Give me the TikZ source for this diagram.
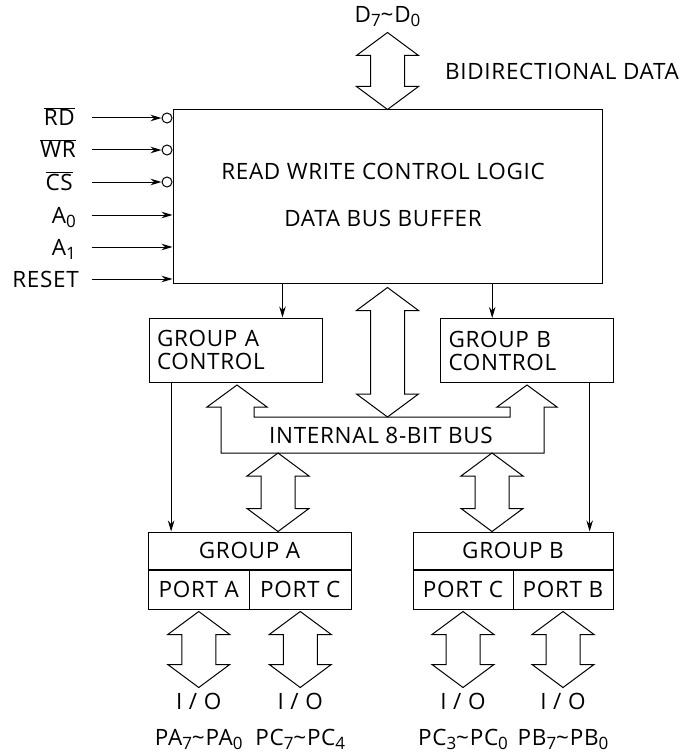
\documentclass[tikz,border=0pt]{standalone}
\usepackage{fontspec}
\setmainfont[LetterSpace=3]{Open Sans}
\usepackage{tikz}
\usetikzlibrary{
    arrows.meta,
    positioning,
    calc
}
\newcommand{\lowix}[1]{\raisebox{-4.5pt}{\fontsize{17}{17}\selectfont #1}}
\newcommand{\ovl}[1]{$\overline{\hbox{#1}}$}

\begin{document}
\begin{tikzpicture}[x=1pt, y=-1pt,
    font=\fontsize{22.5}{23}\selectfont,
    blk/.style={
        draw,
        line width=1pt,
        inner sep=0pt,
        text height=16pt,
        text depth=0pt
    },
    ctrl/.style={
        draw,
        line width=1pt,
        inner sep=0pt,
        align=left,
        text width=157pt,
        minimum width=173pt,
        minimum height=64pt
    },
    txt/.style={inner sep=0pt, text height=16pt, text depth=0pt},
    sig/.style={-{Stealth[length=11pt,width=6.5pt]}, line width=1pt},
    bubble/.style={circle, draw, line width=1pt, inner sep=0pt, minimum size=10pt},
    bus/.style={draw, line width=1pt, line join=miter, fill=white},
    dbl/.style={bus, to path={
        (\tikztostart) -- ++(-31,23) -- ++(14,0)
        -- ($(\tikztotarget)+(-17,-23)$) -- ++(-14,0) -- (\tikztotarget)
        -- ++(31,-23) -- ++(-14,0)
        -- ($(\tikztostart)+(17,23)$) -- ++(14,0) -- cycle}}
]
\useasboundingbox (0,0) rectangle (692,754);

% ===== main block =====
\node[blk, minimum width=429pt, minimum height=173pt] (rwl) at (387.5,196.5) {};
\node[txt] (rwtxt) at (383,171) {READ WRITE CONTROL LOGIC};
\node[txt, below=31pt of rwtxt] (dbtxt) {DATA BUS BUFFER};

\coordinate[above=77pt of rwl.north] (dtop);
\draw[dbl] (dtop) to (rwl.north);
\node[txt, above=10pt of dtop] (dlbl) {D\lowix{7}\textasciitilde D\lowix{0}};
\node[txt, anchor=west] (bidir) at (445,72) {BIDIRECTIONAL DATA};

% ===== inputs =====
\node[txt, anchor=east] (rd) at (75,118) {\ovl{RD}};
\node[txt, anchor=east] (wr) at (76,150) {\ovl{WR}};
\node[txt, anchor=east] (cs) at (73,182) {\ovl{CS}};
\node[txt, anchor=east] (azero) at (76,215) {A\lowix{0}};
\node[txt, anchor=east] (aone) at (76,247) {A\lowix{1}};
\node[txt, anchor=east] (reset) at (79,279) {RESET};

\node[bubble, anchor=east] (brd) at (rwl.west |- rd) {};
\node[bubble, anchor=east] (bwr) at (rwl.west |- wr) {};
\node[bubble, anchor=east] (bcs) at (rwl.west |- cs) {};

\draw[sig] (92,0 |- rd) -- (brd);
\draw[sig] (92,0 |- wr) -- (bwr);
\draw[sig] (92,0 |- cs) -- (bcs);
\draw[sig] (92,0 |- azero) -- (azero -| rwl.west);
\draw[sig] (92,0 |- aone) -- (aone -| rwl.west);
\draw[sig] (92,0 |- reset) -- (reset -| rwl.west);

% ===== group controls =====
\node[ctrl] (actl) at (235.5,350) {GROUP A\\CONTROL};
\node[ctrl] (bctl) at (527,350.5) {GROUP B\\CONTROL};

\coordinate (adn) at ($(actl.north west)!0.77!(actl.north east)$);
\coordinate (bdn) at ($(bctl.north west)!0.3!(bctl.north east)$);
\draw[sig] (rwl.south -| adn) -- (adn);
\draw[sig] (rwl.south -| bdn) -- (bdn);

% ===== internal bus =====
\draw[bus] (221,453) -- (221,407) -- (207,407) -- (237,385) -- (267,407)
    -- (254,407) -- (254,417) -- (510,417) -- (510,407) -- (497,407)
    -- (527,385) -- (557,407) -- (544,407) -- (544,453) -- cycle;
\node[txt] (ibus) at (381,435) {INTERNAL 8-BIT BUS};

\coordinate[below=4pt of rwl.south] (dmid);
\coordinate (busn) at (387.5,417);
\draw[dbl] (dmid) to (busn);

% ===== groups and ports =====
\node[blk, minimum width=203pt, minimum height=37pt] (grpa) at (249.5,550.5) {GROUP A};
\node[blk, minimum width=101.5pt, minimum height=39pt, anchor=north west] (porta) at (grpa.south west) {PORT A};
\node[blk, minimum width=101.5pt, minimum height=39pt, anchor=north east] (portca) at (grpa.south east) {PORT C};

\node[blk, minimum width=200pt, minimum height=37pt] (grpb) at (513,550.5) {GROUP B};
\node[blk, minimum width=100pt, minimum height=39pt, anchor=north west] (portcb) at (grpb.south west) {PORT C};
\node[blk, minimum width=100pt, minimum height=39pt, anchor=north east] (portb) at (grpb.south east) {PORT B};

\coordinate (busa) at (278,453);
\coordinate (busb) at (492,453);
\coordinate (grpatop) at (busa |- grpa.north);
\coordinate (grpbtop) at (busb |- grpb.north);
\draw[dbl] (busa) to (grpatop);
\draw[dbl] (busb) to (grpbtop);

\coordinate (adl) at ($(actl.south west)!0.13!(actl.south east)$);
\coordinate (bdl) at ($(bctl.south west)!0.86!(bctl.south east)$);
\draw[sig] (adl) -- (adl |- grpa.north);
\draw[sig] (bdl) -- (bdl |- grpb.north);

% ===== I/O lines =====
\coordinate[below=2pt of porta.south] (pat);
\coordinate[below=78pt of porta.south] (pab);
\coordinate[below=2pt of portca.south] (pcat);
\coordinate[below=78pt of portca.south] (pcab);
\coordinate[below=2pt of portcb.south] (pcbt);
\coordinate[below=78pt of portcb.south] (pcbb);
\coordinate[below=2pt of portb.south] (pbt);
\coordinate[below=78pt of portb.south] (pbb);

\draw[dbl] (pat) to (pab);
\draw[dbl] (pcat) to (pcab);
\draw[dbl] (pcbt) to (pcbb);
\draw[dbl] (pbt) to (pbb);

\node[txt, below=6pt of pab] (ioa) {I / O};
\node[txt, below=6pt of pcab] (ioca) {I / O};
\node[txt, below=6pt of pcbb] (iocb) {I / O};
\node[txt, below=6pt of pbb] (iob) {I / O};

\node[txt, below=19pt of ioa] {PA\lowix{7}\textasciitilde PA\lowix{0}};
\node[txt, below=19pt of ioca] {PC\lowix{7}\textasciitilde PC\lowix{4}};
\node[txt, below=19pt of iocb] {PC\lowix{3}\textasciitilde PC\lowix{0}};
\node[txt, below=19pt of iob] {PB\lowix{7}\textasciitilde PB\lowix{0}};

\end{tikzpicture}
\end{document}
